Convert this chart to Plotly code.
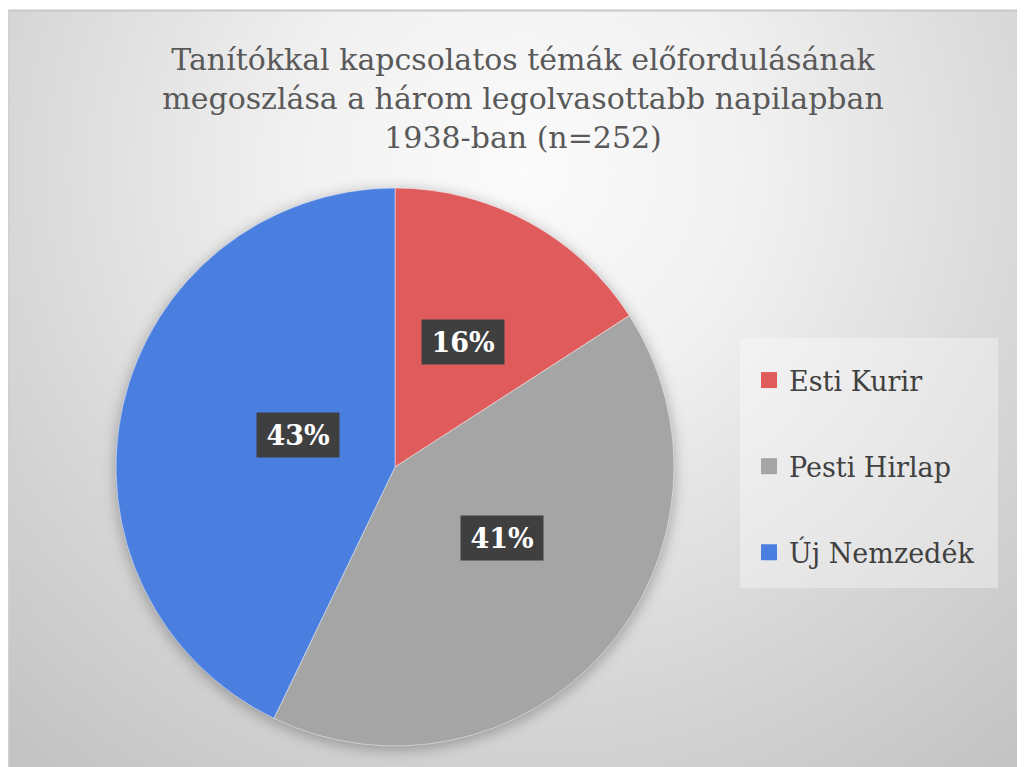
import math
import urllib.parse
import plotly.graph_objects as go

# ---- data ----
categories = ["Esti Kurir", "Pesti Hirlap", "Új Nemzedék"]
counts = [40, 104, 108]          # n = 252  -> 16%, 41%, 43%
colors = ["#E05C5C", "#A5A5A5", "#4A7FE0"]
title_lines = ["Tanítókkal kapcsolatos témák előfordulásának",
               "megoszlása a három legolvasottabb napilapban",
               "1938-ban (n=252)"]

# ---- layout geometry (pixels, figure coords; page has 8px body margin) ----
W, H = 1017, 759
CX, CY, R = 387, 459, 279
FONT = "DejaVu Serif"

# background: radial gradient, pie shadow, legend panel
svg = f'''<svg xmlns="http://www.w3.org/2000/svg" width="{W}" height="{H}" viewBox="0 0 {W} {H}" preserveAspectRatio="none">
<defs>
<radialGradient id="g" gradientUnits="userSpaceOnUse" cx="515" cy="160" r="760">
<stop offset="0" stop-color="#fbfbfb"/>
<stop offset="0.3" stop-color="#f1f1f1"/>
<stop offset="0.7" stop-color="#d6d6d6"/>
<stop offset="1" stop-color="#c4c4c4"/>
</radialGradient>
<filter id="b" x="-20%" y="-20%" width="140%" height="140%"><feGaussianBlur stdDeviation="7"/></filter>
<filter id="s" x="-20%" y="-20%" width="140%" height="140%"><feGaussianBlur stdDeviation="2"/></filter>
</defs>
<rect x="0" y="0" width="{W}" height="{H}" fill="#ffffff"/>
<rect x="0" y="2" width="{W}" height="{H-2}" fill="url(#g)"/>
<line x1="0" y1="2.5" x2="{W}" y2="2.5" stroke="#c8c8c8" stroke-width="2"/>
<line x1="0.5" y1="2" x2="0.5" y2="{H}" stroke="#d0d0d0" stroke-width="2"/>
<circle cx="{CX}" cy="{CY+3}" r="{R+1}" fill="#000000" fill-opacity="0.28" filter="url(#b)"/>
<rect x="732" y="330" width="258" height="250" fill="#ffffff" fill-opacity="0.35"/>
</svg>'''
bg_src = "data:image/svg+xml;charset=utf-8," + urllib.parse.quote(svg)

fig = go.Figure()
fig.add_trace(go.Pie(
    labels=categories, values=counts, sort=False, direction="clockwise",
    rotation=0, marker=dict(colors=colors, line=dict(color="rgba(255,255,255,0.45)", width=1)),
    textinfo="none", hoverinfo="label+percent", showlegend=False,
    domain=dict(x=[(CX - R) / W, (CX + R) / W], y=[1 - (CY + R) / H, 1 - (CY - R) / H]),
))

# legend entries (one per category)
for i, (c, col) in enumerate(zip(categories, colors)):
    fig.add_trace(go.Scatter(x=[None], y=[None], mode="markers", name=c,
                             legendgroup=f"g{i}",
                             marker=dict(symbol="square", size=16, color=col)))

# percentage labels from the data
total = sum(counts)
annotations = []
cum = 0
for v in counts:
    mid = (cum + v / 2) / total * 2 * math.pi
    cum += v
    r = 0.51 * R
    px = CX + r * math.sin(mid)
    py = CY - r * math.cos(mid)
    annotations.append(dict(
        x=px / W, y=1 - py / H, xref="paper", yref="paper", showarrow=False,
        text=f"<b>{round(v / total * 100)}%</b>",
        font=dict(family=FONT, size=27, color="#ffffff"),
        bgcolor="#3f3f3f", width=82, height=44, borderpad=0,
    ))

fig.update_layout(
    width=W, height=H,
    margin=dict(l=0, r=0, t=0, b=0),
    paper_bgcolor="#ffffff", plot_bgcolor="rgba(0,0,0,0)",
    images=[dict(source=bg_src, xref="paper", yref="paper", x=0, y=1,
                 sizex=1, sizey=1, sizing="stretch", layer="below",
                 xanchor="left", yanchor="top")],
    title=dict(text="<br>".join(title_lines), x=515 / W, xanchor="center",
               y=1 - 62 / H, yanchor="middle",
               font=dict(family=FONT, size=30, color="#595959")),
    xaxis=dict(visible=False), yaxis=dict(visible=False),
    showlegend=True,
    legend=dict(x=741 / W, xanchor="left", y=1 - 348 / H, yanchor="top",
                bgcolor="rgba(0,0,0,0)", tracegroupgap=48,
                font=dict(family=FONT, size=27, color="#404040"),
                itemclick=False, itemdoubleclick=False),
    annotations=annotations,
)

fig.write_html("out.html")
